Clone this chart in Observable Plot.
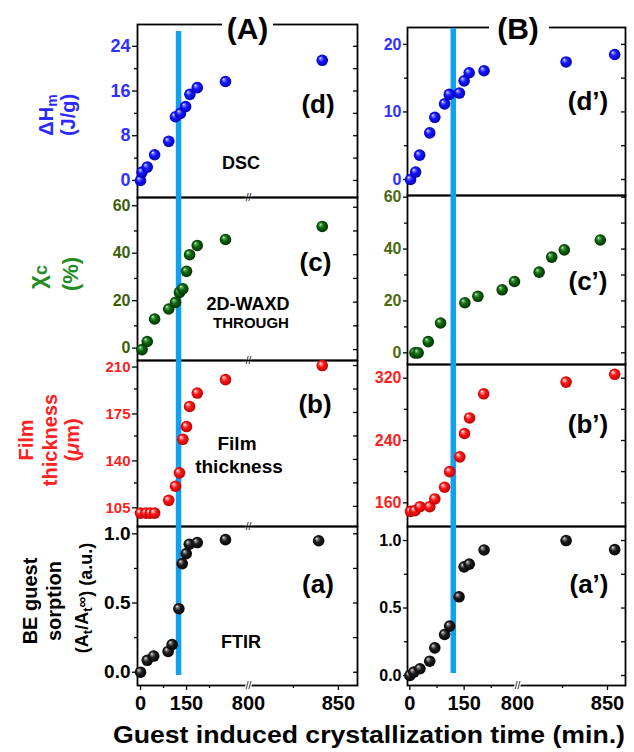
<!DOCTYPE html>
<html><head><meta charset="utf-8">
<script src="https://cdn.jsdelivr.net/npm/d3@7"></script>
<script src="https://cdn.jsdelivr.net/npm/@observablehq/plot@0.6"></script>
<style>
body { margin:0; background:white; }
#chart { position:relative; width:634px; height:752px; overflow:hidden; background:white; }
#chart svg { position:absolute; }
</style></head><body><div id="chart"></div>
<script>
// ---------------- DATA (time in min.) ----------------
// Column (A)
const timeA_dsc  = [0, 5, 22, 46, 92, 114, 130, 147, 161, 185, 277, 841];
const dHm_A      = [0, 1.5, 2.4, 4.6, 7.0, 11.4, 12.0, 13.2, 15.4, 16.6, 17.7, 21.5];
const timeA_waxd = [5, 22, 46, 92, 114, 127, 138, 150, 160, 185, 277, 841];
const chiC_A     = [0, 3.4, 12.9, 17.1, 19.9, 24.1, 25.6, 33.0, 40.0, 43.9, 46.4, 51.9];
const timeA_film = [0, 18, 32, 46, 92, 114, 127, 138, 150, 160, 185, 277, 841];
const film_A     = [100, 100, 100, 100, 109.5, 120, 130, 155, 164.5, 179.5, 189.5, 199.5, 210];
const timeA_ftir = [0, 22, 43, 90, 103, 125, 136, 149, 159, 185, 277, 839];
const sorp_A     = [0, 0.086, 0.117, 0.15, 0.2, 0.459, 0.785, 0.857, 0.925, 0.937, 0.958, 0.95];
// Column (B)
const timeB_dsc  = [2, 16, 27, 55, 69, 96, 109, 137, 150, 164, 205, 827, 854];
const dHm_B      = [0, 1.1, 3.6, 6.9, 9.2, 11.2, 12.6, 12.8, 14.6, 15.8, 16.1, 17.4, 18.5];
const timeB_waxd = [14, 23, 51, 85, 152, 188, 255, 289, 812, 819, 826, 846];
const chiC_B     = [0, 0, 4.3, 11.5, 19.3, 21.8, 24.3, 27.5, 31.1, 36.9, 39.7, 43.5];
const timeB_film = [2, 14, 28, 55, 69, 96, 110, 138, 151, 165, 204, 827, 854];
const film_B     = [149, 150, 155, 155, 165, 180, 200, 219, 249, 269, 300, 315, 325];
const timeB_ftir = [0, 11, 28, 55, 69, 96, 110, 136, 150, 164, 205, 827, 854];
const sorp_B     = [0, 0.025, 0.05, 0.106, 0.205, 0.304, 0.366, 0.583, 0.805, 0.825, 0.93, 1.0, 0.933];
// onset line (min.)
const onsetA = 124;
const onsetB = 120;
// tick values
const xTicksMajor = [0, 150, 800, 850];
const xTicksMinor = [75, 225, 825];
const yTicksDscA = [0, 8, 16, 24],      yMinorDscA = [4, 12, 20];
const yTicksWaxd = [0, 20, 40, 60],     yMinorWaxd = [10, 30, 50];
const yTicksFilmA = [105, 140, 175, 210], yMinorFilmA = [122.5, 157.5, 192.5];
const yTicksFtir = [0, 0.5, 1.0],        yMinorFtir = [0.25, 0.75];
const yTicksDscB = [0, 10, 20],          yMinorDscB = [5, 15];
const yTicksFilmB = [160, 240, 320],     yMinorFilmB = [200, 280];

// ---------------- RENDERING ----------------
const FONT = '"Liberation Sans", Arial, sans-serif';
const BLUE = "#12a0f0";
const chart = document.getElementById("chart");

// sphere gradients
const defs = d3.select(chart).append("svg").attr("width", 0).attr("height", 0).append("defs");
const grads = {
  blue:  ["#ffffff", "#8080ff", "#1515ff", "#0000a8"],
  green: ["#f0fff0", "#5fae5f", "#0e680e", "#002800"],
  red:   ["#ffffff", "#ff9d9d", "#ff1616", "#b00000"],
  black: ["#f4f4f4", "#8c8c8c", "#1e1e1e", "#000000"]
};
for (const [name, c] of Object.entries(grads)) {
  const g = defs.append("radialGradient").attr("id", "sph-" + name)
    .attr("cx", "50%").attr("cy", "50%").attr("r", "55%").attr("fx", "32%").attr("fy", "30%");
  [[0, c[0]], [0.16, c[1]], [0.45, c[2]], [1, c[3]]]
    .forEach(([o, col]) => g.append("stop").attr("offset", o).attr("stop-color", col));
}

// broken time axis: [.. tBreak] | [800 ..] with the right part stretched by k
function brokenAxis(tBreak, k) {
  return t => t <= (tBreak + 800) / 2 ? t : tBreak + (t - 800) * k;
}
const cols = {
  A: {u: brokenAxis(352, 5.863), left: 137, right: 357, xDomain: [-9.8, 352 + 60.6 * 5.863],
      onset: onsetA, blueTop: 31, blueBottom: 675, tickSize: 5, breakAll: true},
  B: {u: brokenAxis(297.4, 4.97), left: 407, right: 625, xDomain: [-6.4, 297.4 + 60 * 4.97],
      onset: onsetB, blueTop: 28, blueBottom: 673, tickSize: 4, breakAll: false}
};

const panels = {
  A: [
    {top: 24, bottom: 197, t: timeA_dsc, v: dHm_A, fill: "blue", yDomain: [-3.05, 27.9], major: yTicksDscA, minor: yMinorDscA, fmt: d => d, color: "#3030ff", size: 18, dy: 0},
    {top: 197, bottom: 360, t: timeA_waxd, v: chiC_A, fill: "green", yDomain: [-4.6, 64.1], major: yTicksWaxd, minor: yMinorWaxd, fmt: d => d, color: "#3d5f0c", size: 16, dy: -1.5},
    {top: 360, bottom: 526, t: timeA_film, v: film_A, fill: "red", yDomain: [90, 213.75], major: yTicksFilmA, minor: yMinorFilmA, fmt: d => d, color: "#ff1f1f", size: 15, dy: 1.5},
    {top: 526, bottom: 685, t: timeA_ftir, v: sorp_A, fill: "black", yDomain: [-0.096, 1.053], major: yTicksFtir, minor: yMinorFtir, fmt: d => d.toFixed(1), color: "#000", size: 19, dy: 0}
  ],
  B: [
    {top: 27, bottom: 195, t: timeB_dsc, v: dHm_B, fill: "blue", yDomain: [-2.37, 22.5], major: yTicksDscB, minor: yMinorDscB, fmt: d => d, color: "#3030ff", size: 16, dy: 0},
    {top: 195, bottom: 364, t: timeB_waxd, v: chiC_B, fill: "green", yDomain: [-4.5, 60.65], major: yTicksWaxd, minor: yMinorWaxd, fmt: d => d, color: "#4a6a10", size: 16, dy: 0},
    {top: 364, bottom: 526, t: timeB_film, v: film_B, fill: "red", yDomain: [129.6, 337.6], major: yTicksFilmB, minor: yMinorFilmB, fmt: d => d, color: "#ff1f1f", size: 16, dy: 0},
    {top: 526, bottom: 685, t: timeB_ftir, v: sorp_B, fill: "black", yDomain: [-0.074, 1.104], major: yTicksFtir, minor: yMinorFtir, fmt: d => d.toFixed(1), color: "#000", size: 16, dy: 0}
  ]
};

for (const key of ["A", "B"]) {
  const col = cols[key];
  const list = panels[key];
  list.forEach((p, i) => {
    const isFirst = i === 0, isLast = i === list.length - 1;
    const mL = 50, mR = 12, mT = 10, mB = isLast ? 34 : 10;
    const fw = col.right - col.left, fh = p.bottom - p.top;
    const rows = p.t.map((t, j) => ({u: col.u(t), v: p.v[j]}));
    const breakU = col.u(800);
    const marks = [
      Plot.frame({stroke: "black", strokeWidth: 1.8}),
      Plot.axisY(p.major, {anchor: "left", tickSize: col.tickSize, tickPadding: 2, tickFormat: p.fmt,
        fill: p.color, stroke: "black", strokeWidth: 1.3, fontSize: p.size, fontWeight: "bold", dy: p.dy, label: null}),
      Plot.axisY(p.minor, {anchor: "left", tickSize: 3, tickFormat: () => "", stroke: "black", strokeWidth: 1.3, label: null}),
      Plot.tickY([...p.major, ...p.minor], {y: d => d, insetLeft: fw - 4, stroke: "black", strokeWidth: 1.3}),
      Plot.ruleX([col.onset], {x: d => col.u(d), stroke: BLUE, strokeWidth: 5.5,
        insetTop: isFirst ? col.blueTop - p.top : -1, insetBottom: isLast ? p.bottom - col.blueBottom : -1}),
      Plot.dot(rows, {x: "u", y: "v", r: 5.8, fill: `url(#sph-${p.fill})`})
    ];
    if (isLast) {
      const labels = new Map(xTicksMajor.map(t => [col.u(t), String(t)]));
      marks.push(
        Plot.axisX(xTicksMajor.map(col.u), {anchor: "bottom", tickSize: 5, tickPadding: 5,
          tickFormat: d => labels.get(d), fontSize: 20, fontWeight: "bold", stroke: "black", strokeWidth: 1.3, label: null}),
        Plot.axisX(xTicksMinor.map(col.u), {anchor: "bottom", tickSize: 3, tickFormat: () => "",
          stroke: "black", strokeWidth: 1.3, label: null})
      );
    }
    if (col.breakAll || isLast) {
      marks.push(Plot.text([breakU], {x: d => d, frameAnchor: "bottom", text: () => "//", fontSize: 10,
        lineAnchor: "middle", fill: "black", stroke: "white", strokeWidth: 2.5}));
    }
    const svg = Plot.plot({
      width: fw + mL + mR, height: fh + mT + mB,
      marginLeft: mL, marginRight: mR, marginTop: mT, marginBottom: mB,
      x: {domain: col.xDomain, axis: null},
      y: {domain: p.yDomain, axis: null},
      style: {background: "transparent", overflow: "visible", fontFamily: FONT},
      marks
    });
    svg.style.position = "absolute";
    svg.style.left = (col.left - mL) + "px";
    svg.style.top = (p.top - mT) + "px";
    chart.appendChild(svg);
  });
}

// ---------------- TEXT OVERLAY ----------------
const ov = d3.select(chart).append("svg").attr("width", 634).attr("height", 752)
  .style("left", "0px").style("top", "0px").style("pointer-events", "none")
  .attr("font-family", FONT).attr("font-weight", "bold");

function label(x, y, parts, size, color = "#000", rotate = false, extra = {}) {
  const g = ov.append("g").attr("transform", rotate ? `translate(${x},${y}) rotate(-90)` : `translate(${x},${y})`);
  const t = g.append("text").attr("text-anchor", "middle").attr("font-size", size).attr("fill", color);
  for (const [k, v] of Object.entries(extra)) t.attr(k, v);
  for (const part of [].concat(parts)) {
    if (typeof part === "string") t.append("tspan").text(part);
    else {
      const s = t.append("tspan").text(part.text);
      if (part.size) s.attr("font-size", part.size);
      if (part.shift) s.attr("dy", part.shift);
      if (part.italic) s.attr("font-style", "italic");
    }
  }
  return t;
}

// column headers with white background breaking the frame
ov.append("rect").attr("x", 222).attr("y", 14).attr("width", 51).attr("height", 22).attr("fill", "white");
ov.append("rect").attr("x", 489).attr("y", 14).attr("width", 60).attr("height", 22).attr("fill", "white");
label(247.5, 38.5, "(A)", 30);
label(518, 38.5, "(B)", 30);

// panel labels
[["(d)", 318, 113], ["(c)", 315.5, 271], ["(b)", 315, 413], ["(a)", 318, 593],
 ["(d\u2019)", 588, 110], ["(c\u2019)", 588, 290], ["(b\u2019)", 588, 433], ["(a\u2019)", 589, 593]]
  .forEach(([s, x, y]) => label(x, y, s, 26));

// method labels
label(241, 169, "DSC", 18);
label(248, 310, "2D-WAXD", 18);
label(251, 328, "THROUGH", 15);
label(237, 450, "Film", 19);
label(239, 473, "thickness", 19);
label(241, 648, "FTIR", 18);

// y-axis titles (rotated)
label(53, 115, ["\u0394H", {text: "m", size: 14, shift: 4}], 20, "#2a2aff", true);
label(75, 115, "(J/g)", 20, "#2a2aff", true);
label(45, 277, ["\u03c7", {text: "c", size: 18, shift: 2}], 24, "#228b22", true);
label(78, 274, "(%)", 22, "#228b22", true);
label(33, 440, "Film", 20, "#ff2222", true);
label(57, 440, "thickness", 20, "#ff2222", true);
label(79, 440, ["(", {text: "\u03bc", italic: true}, "m)"], 20, "#ff2222", true);
label(37, 601, "BE guest", 20, "#000", true);
label(61, 601, "sorption", 20, "#000", true);
label(88, 598, ["(A", {text: "t", size: 13, shift: 4}, {text: "/A", shift: -4}, {text: "t", size: 13, shift: 4},
  {text: "\u221e", size: 15, shift: -5}, {text: ") (a.u.)", shift: 5}], 18, "#000", true);

// x-axis title
label(369, 743, "Guest induced crystallization time (min.)", 23, "#000", false,
  {textLength: 512, lengthAdjust: "spacingAndGlyphs"});
</script>
</body></html>
